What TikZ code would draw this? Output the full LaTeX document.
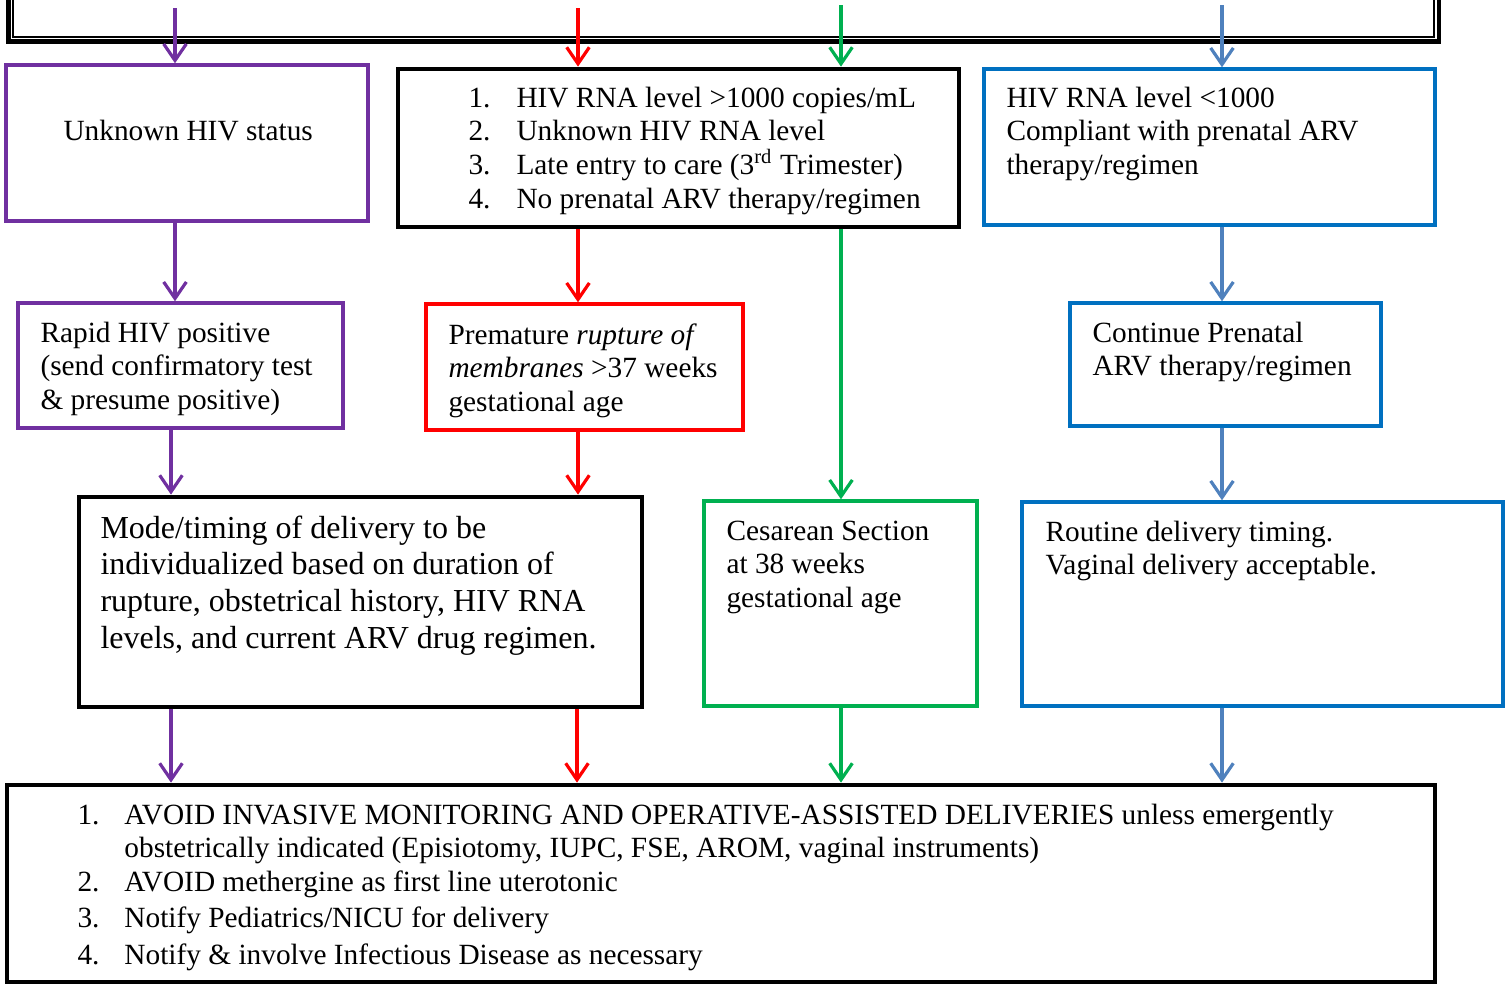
\documentclass[tikz,border=0pt]{standalone}
\usepackage{fontspec}
\setmainfont{Liberation Serif}
\usetikzlibrary{arrows.meta,fit}
\definecolor{cpurple}{HTML}{7030A0}
\definecolor{cred}{HTML}{FF0000}
\definecolor{cgreen}{HTML}{00B050}
\definecolor{cblue}{HTML}{0070C0}
\definecolor{carrowblue}{HTML}{4F81BD}
\newcommand{\itmA}[2]{\makebox[18pt][l]{#1}#2}
\newcommand{\itmB}[2]{\makebox[17.6pt][l]{#1}#2}
\begin{document}
\begin{tikzpicture}[x=0.375pt,y=-0.375pt,
  cbox/.style={draw,line width=1.3pt,inner sep=0pt},
  kbox/.style={draw=black,line width=1.8pt,inner sep=0pt},
  arr/.style={line width=1.2pt,-{Straight Barb[length=6.2pt,width=8.5pt]}},
  txt/.style={anchor=base west,inner sep=0pt},
  font=\fontsize{11}{12.65}\selectfont]
\clip (0,0) rectangle (1505,988);
% top double box
\node[kbox,fit={(8.7,-40) (1439,41.3)}] (top) {};
\node[draw=black,line width=0.6pt,inner sep=0pt,fit={(13,-40) (1434,36.7)}] (topin) {};
% boxes
\node[cbox,draw=cpurple,fit={(6,65) (368,221)}] (b1) {};
\node[kbox,fit={(398,69) (959,227)}] (b2) {};
\node[cbox,draw=cblue,fit={(984,69) (1435,225)}] (b3) {};
\node[cbox,draw=cpurple,fit={(18,303) (343,428)}] (b4) {};
\node[cbox,draw=cred,fit={(426,304) (743,430)}] (b5) {};
\node[cbox,draw=cblue,fit={(1070,303) (1381,426)}] (b6) {};
\node[kbox,fit={(79,497) (642,707)}] (b7) {};
\node[cbox,draw=cgreen,fit={(704,501) (977,706)}] (b8) {};
\node[cbox,draw=cblue,fit={(1022,502) (1503,706)}] (b9) {};
\node[kbox,fit={(7,785) (1435,982)}] (b10) {};
% texts
\node[txt] (t1) at (63,140) {Unknown HIV status};
\node[txt] (t2) at (468,107) {\parbox[t]{400pt}{%
\itmA{1.}{HIV RNA level >1000 copies/mL}\\
\itmA{2.}{Unknown HIV RNA level}\\
\itmA{3.}{Late entry to care (3\textsuperscript{rd} Trimester)}\\
\itmA{4.}{No prenatal ARV therapy/regimen}}};
\node[txt] (t3) at (1006,107) {\parbox[t]{300pt}{%
HIV RNA level <1000\\
Compliant with prenatal ARV\\
therapy/regimen}};
\node[txt] (t4) at (40,342) {\parbox[t]{200pt}{%
Rapid HIV positive\\
(send confirmatory test\\
\& presume positive)}};
\node[txt] (t5) at (448,344) {\parbox[t]{200pt}{%
Premature \textit{rupture of}\\
\textit{membranes} >37 weeks\\
gestational age}};
\node[txt] (t6) at (1092,342) {\parbox[t]{200pt}{%
Continue Prenatal\\
ARV therapy/regimen}};
\node[txt,font=\fontsize{12}{13.8}\selectfont] (t7) at (100,538) {\parbox[t]{300pt}{%
Mode/timing of delivery to be\\
individualized based on duration of\\
rupture, obstetrical history, HIV RNA\\
levels, and current ARV drug regimen.}};
\node[txt] (t8) at (726,540) {\parbox[t]{200pt}{%
Cesarean Section\\
at 38 weeks\\
gestational age}};
\node[txt] (t9) at (1045,541) {\parbox[t]{200pt}{%
Routine delivery timing.\\
Vaginal delivery acceptable.}};
\node[txt] (t10) at (77,824) {\parbox[t]{540pt}{%
\itmB{1.}{AVOID INVASIVE MONITORING AND OPERATIVE-ASSISTED DELIVERIES unless emergently}\\
\itmB{}{obstetrically indicated (Episiotomy, IUPC, FSE, AROM, vaginal instruments)}\\
\itmB{2.}{AVOID methergine as first line uterotonic}\\[1pt]
\itmB{3.}{Notify Pediatrics/NICU for delivery}\\[1.2pt]
\itmB{4.}{Notify \& involve Infectious Disease as necessary}}};
% columns
\coordinate (s1) at (175,8);
\coordinate (s2) at (578,8);
\coordinate (s3) at (841,5);
\coordinate (s4) at (1222,5);
\coordinate (p1) at (171,0);
\coordinate (p2) at (577,0);
% arrows row 1
\draw[arr,cpurple] (s1) -- (s1 |- b1.north);
\draw[arr,cred] (s2) -- (s2 |- b2.north);
\draw[arr,cgreen] (s3) -- (s3 |- b2.north);
\draw[arr,carrowblue] (s4) -- (s4 |- b3.north);
% row 2
\draw[arr,cpurple] (b1.south -| s1) -- (s1 |- b4.north);
\draw[arr,cred] (b2.south -| s2) -- (s2 |- b5.north);
\draw[arr,cgreen] (b2.south -| s3) -- (s3 |- b8.north);
\draw[arr,carrowblue] (b3.south -| s4) -- (s4 |- b6.north);
% row 3
\draw[arr,cpurple] (b4.south -| p1) -- (p1 |- b7.north);
\draw[arr,cred] (b5.south -| s2) -- (s2 |- b7.north);
\draw[arr,carrowblue] (b6.south -| s4) -- (s4 |- b9.north);
% row 4
\draw[arr,cpurple] (b7.south -| p1) -- (p1 |- b10.north);
\draw[arr,cred] (b7.south -| p2) -- (p2 |- b10.north);
\draw[arr,cgreen] (b8.south -| s3) -- (s3 |- b10.north);
\draw[arr,carrowblue] (b9.south -| s4) -- (s4 |- b10.north);
\end{tikzpicture}
\end{document}
